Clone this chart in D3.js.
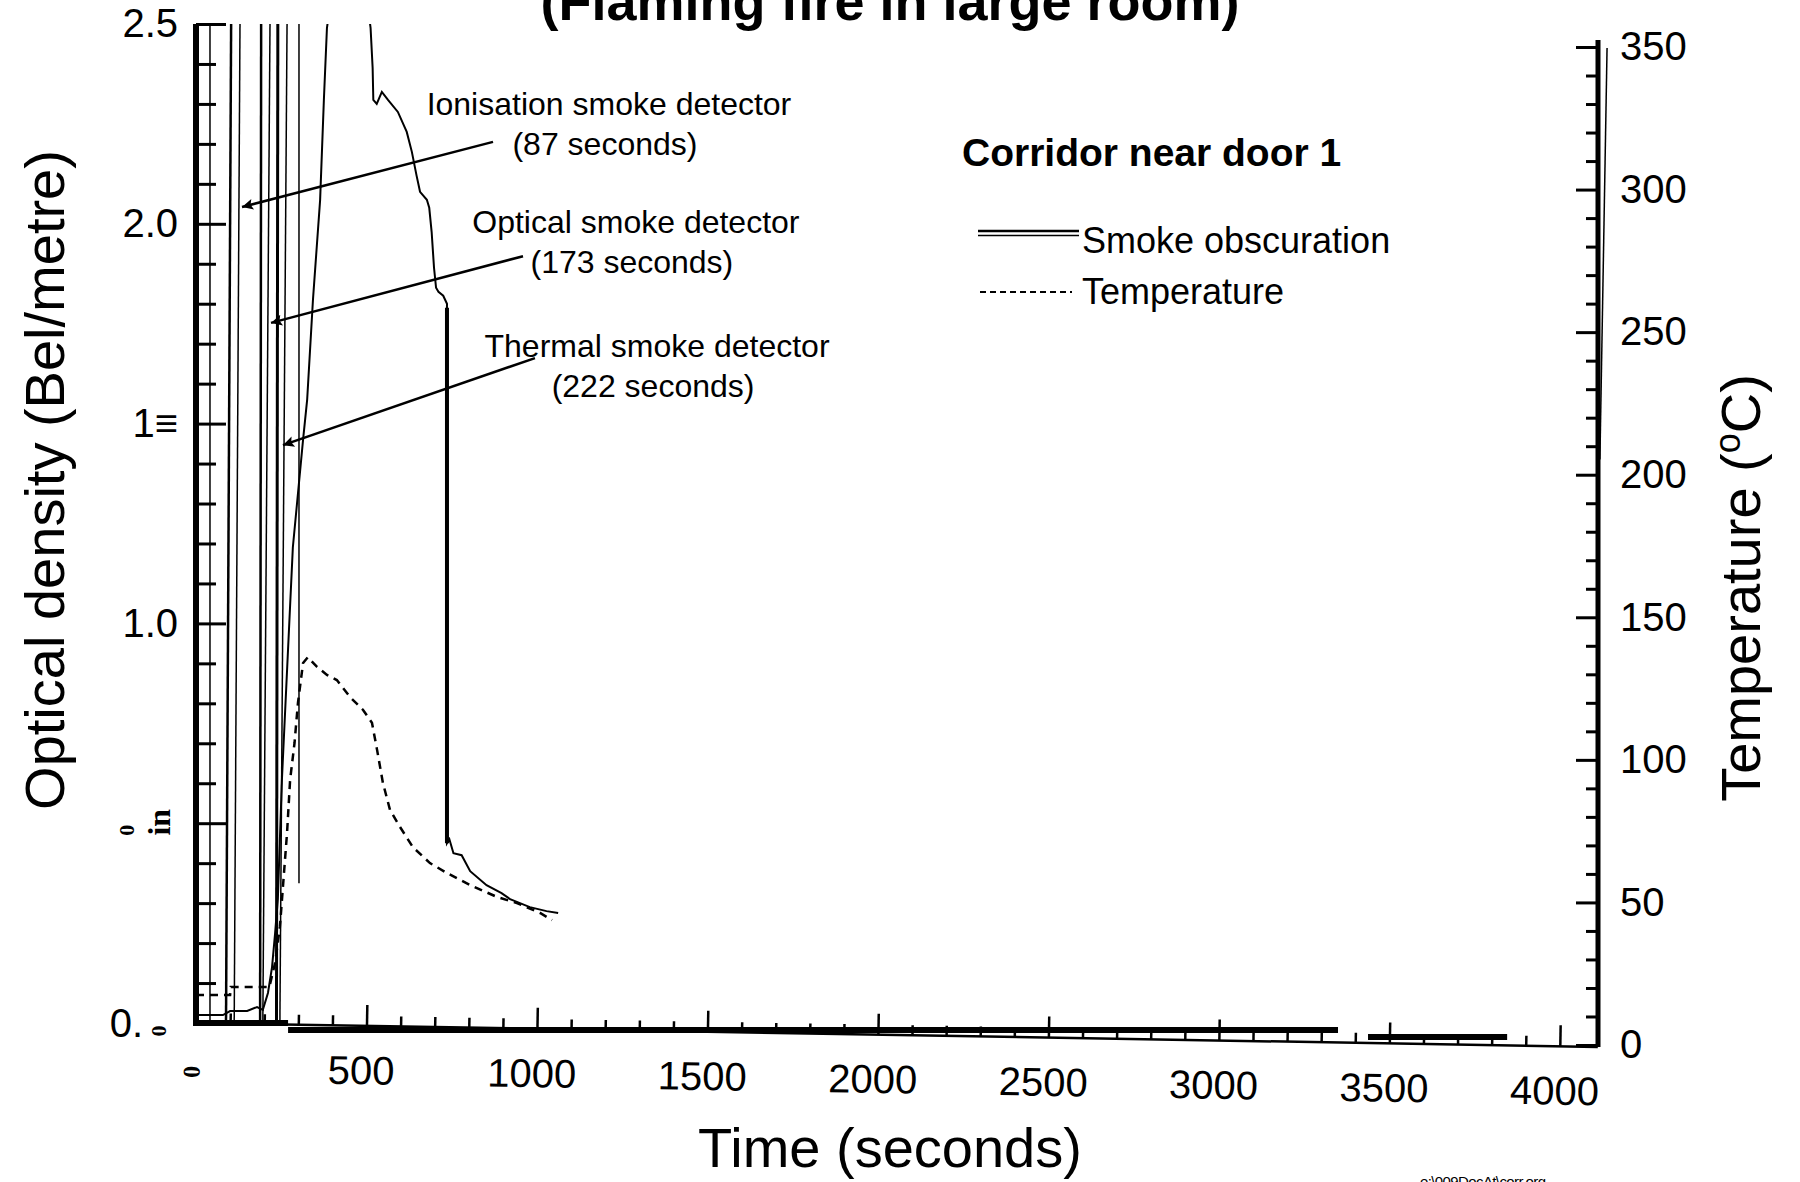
<!DOCTYPE html>
<html>
<head>
<meta charset="utf-8">
<script src="https://cdn.jsdelivr.net/npm/d3@7"></script>
<style>
  body { margin: 0; background: #fff; }
  svg { display: block; background: #fff; }
  text { font-family: "Liberation Sans", Arial, sans-serif; fill: #000; }
  .serif { font-family: "Liberation Serif", "DejaVu Serif", serif; font-weight: bold; }
</style>
</head>
<body>
<svg id="chart" width="1800" height="1182"></svg>
<script>
// smoke obscuration (Bel/metre, left axis)
const smokeTime  = [0, 79, 100, 150, 179, 196, 211, 223, 232, 240, 252, 284, 314, 326, 343, 364, 375, 384, 450, 512, 518, 520, 530, 545, 563, 592, 618, 633, 647, 657, 677, 684, 691, 698, 704, 711, 725, 736, 736, 743, 755, 779, 804, 852, 896, 921, 979, 1028, 1062];
const smokeValue = [0.02, 0.02, 0.03, 0.03, 0.04, 0.033, 0.075, 0.14, 0.225, 0.31, 0.61, 1.19, 1.46, 1.56, 1.81, 2.06, 2.31, 2.49, 2.9, 2.49, 2.39, 2.31, 2.30, 2.33, 2.31, 2.28, 2.23, 2.18, 2.12, 2.08, 2.06, 2.04, 1.98, 1.89, 1.84, 1.83, 1.82, 1.80, 0.45, 0.46, 0.425, 0.42, 0.38, 0.345, 0.325, 0.31, 0.29, 0.28, 0.275];

// temperature (deg C, right axis)
const tempTime  = [0, 100, 102, 215, 232, 246, 267, 276, 289, 299, 314, 328, 355, 384, 413, 452, 490, 516, 531, 548, 569, 598, 636, 686, 736, 804, 883, 941, 1009, 1044];
const tempValue = [17.5, 17.5, 20.3, 20.3, 28.8, 41.4, 74.4, 93, 106, 120, 134, 136, 132.6, 129.8, 128, 122, 117.5, 113, 103.5, 92, 82.4, 76.5, 69.4, 63.8, 60.3, 56.1, 51.9, 49.8, 46.3, 43.8];

// near-vertical pen traces left on the record (time at top / bottom, left-axis values)
const traceTimeTop     = [41, 103, 129, 191, 217, 240, 267, 302, 736, 4138];
const traceTimeBottom  = [41, 88, 112, 188, 196, 236, 246, 302, 736, 4117];
const traceValueTop    = [2.5, 2.5, 2.5, 2.5, 2.5, 2.5, 2.5, 2.5, 1.79, 2.44];
const traceValueBottom = [0, 0, 0, 0, 0, 0, 0, 0.35, 0.45, 1.41];
const traceStroke      = [1.5, 2.5, 1.5, 2.5, 1.5, 3, 1.5, 1.5, 4, 1.5];

// thick flat runs of the smoke record along the time axis
const runStart = [0, 270, 3437];
const runEnd   = [270, 3349, 3845];
const runValue = [0, -0.0175, -0.035];

// axes
const xMajor = [500, 1000, 1500, 2000, 2500, 3000, 3500, 4000];
const xTickLabels = ["500", "1000", "1500", "2000", "2500", "3000", "3500", "4000"];
const xMinor = d3.range(100, 4000, 100).filter(d => d % 500 !== 0);
const yMajor = [0, 0.5, 1.0, 1.5, 2.0, 2.5];
const yTickLabels = ["", "", "1.0", "1\u2261", "2.0", "2.5"];
const yMinor = d3.range(1, 25).map(d => d / 10).filter(d => Math.round(d * 10) % 5 !== 0);
const tMajor = [0, 50, 100, 150, 200, 250, 300, 350];
const tTickLabels = ["0", "50", "100", "150", "200", "250", "300", "350"];
const tMinor = d3.range(10, 350, 10).filter(d => d % 50 !== 0);

// annotations: arrow from (t0,v0) to tip (t1,v1), two text lines
const noteLine1 = ["Ionisation smoke detector", "Optical smoke detector", "Thermal smoke detector"];
const noteLine2 = ["(87 seconds)", "(173 seconds)", "(222 seconds)"];
const noteTime  = [1211, 1290, 1352];
const noteValue = [2.272, 1.977, 1.667];
const arrowFromT = [871, 959, 994];
const arrowFromV = [2.205, 1.919, 1.664];
const arrowToT   = [135, 220, 255];
const arrowToV   = [2.042, 1.752, 1.446];

const legendTitle = "Corridor near door 1";
const legendLabels = ["Smoke obscuration", "Temperature"];

const svg = d3.select("#chart");
const x = d3.scaleLinear().domain([0, 4000]).range([196, 1560]);
const yL = d3.scaleLinear().domain([0, 2.5]).range([1023, 24]);
const yR = d3.scaleLinear().domain([0, 350]).range([1045, 47]);
const rightX = 1598;
const tilt = 0.98; // the scanned time axis runs slightly downhill

const defs = svg.append("defs");
defs.append("clipPath").attr("id", "plot")
  .append("rect").attr("x", 150).attr("y", yL(2.5)).attr("width", 1470).attr("height", 1080);
defs.append("marker").attr("id", "head")
  .attr("viewBox", "0 0 10 10").attr("refX", 10).attr("refY", 5)
  .attr("markerUnits", "userSpaceOnUse").attr("markerWidth", 24).attr("markerHeight", 11)
  .attr("orient", "auto")
  .append("path").attr("d", "M0,0 L10,5 L0,10 L2,5 z").attr("fill", "#000");

// title, cut off by the top of the page
svg.append("text").attr("x", 890).attr("y", 20).attr("text-anchor", "middle")
  .style("font-size", "54px").style("font-weight", "bold")
  .text("(Flaming fire in large room)");

const plot = svg.append("g").attr("clip-path", "url(#plot)");

// pen traces
plot.selectAll(".trace").data(traceTimeTop).join("line")
  .attr("class", "trace")
  .attr("x1", (d, i) => x(d)).attr("y1", (d, i) => yL(traceValueTop[i]))
  .attr("x2", (d, i) => x(traceTimeBottom[i])).attr("y2", (d, i) => yL(traceValueBottom[i]))
  .attr("stroke", "#000").attr("stroke-width", (d, i) => traceStroke[i]);

// thick runs
plot.selectAll(".run").data(runStart).join("line")
  .attr("class", "run")
  .attr("x1", d => x(d)).attr("x2", (d, i) => x(runEnd[i]))
  .attr("y1", (d, i) => yL(runValue[i])).attr("y2", (d, i) => yL(runValue[i]))
  .attr("stroke", "#000").attr("stroke-width", 6);

const smoke = smokeTime.map((t, i) => [t, smokeValue[i]]);
plot.append("path").datum(smoke)
  .attr("d", d3.line().x(d => x(d[0])).y(d => yL(d[1])))
  .attr("fill", "none").attr("stroke", "#000").attr("stroke-width", 2);

const temp = tempTime.map((t, i) => [t, tempValue[i]]);
plot.append("path").datum(temp)
  .attr("d", d3.line().x(d => x(d[0])).y(d => yR(d[1])))
  .attr("fill", "none").attr("stroke", "#000").attr("stroke-width", 2.5)
  .attr("stroke-dasharray", "8,6");

// time axis
const gx = svg.append("g")
  .attr("transform", `rotate(${tilt} ${x(0)} ${yL(0)}) translate(0 ${yL(0)})`);
gx.append("line").attr("x1", x(0)).attr("x2", rightX)
  .attr("stroke", "#000").attr("stroke-width", 2.5);
gx.append("g").call(d3.axisBottom(x).tickValues(xMinor).tickSize(-10).tickFormat(""));
gx.append("g").call(d3.axisBottom(x).tickValues(xMajor).tickSize(-21).tickPadding(30)
  .tickFormat(d => xTickLabels[xMajor.indexOf(d)]));
gx.selectAll(".domain").remove();
gx.selectAll(".tick line").attr("stroke-width", 2.5);
gx.selectAll(".tick text").attr("dx", -5).style("font-size", "40px");
gx.append("text").attr("class", "serif")
  .attr("transform", `translate(${x(0) - 4},49) rotate(-90)`)
  .attr("text-anchor", "middle").attr("dy", "0.35em")
  .style("font-size", "24px").text("0");

// left axis
const gyL = svg.append("g").attr("transform", `translate(${x(0)},0)`);
gyL.append("line").attr("y1", yL(2.5)).attr("y2", yL(0) + 3)
  .attr("stroke", "#000").attr("stroke-width", 6);
gyL.append("g").call(d3.axisLeft(yL).tickValues(yMinor).tickSize(-20).tickFormat(""));
gyL.append("g").call(d3.axisLeft(yL).tickValues(yMajor).tickSize(-30).tickPadding(18)
  .tickFormat(d => yTickLabels[yMajor.indexOf(d)]));
gyL.selectAll(".domain").remove();
gyL.selectAll(".tick line").attr("stroke-width", 3);
gyL.selectAll(".tick text").style("font-size", "40px");
gyL.append("text").attr("x", -53).attr("y", yL(0)).attr("dy", "0.35em")
  .attr("text-anchor", "end").style("font-size", "40px").text("0.");
gyL.append("text").attr("class", "serif")
  .attr("transform", `translate(-38,${yL(0) + 8}) rotate(-90)`)
  .attr("text-anchor", "middle").attr("dy", "0.35em").style("font-size", "22px").text("0");
gyL.append("text").attr("class", "serif")
  .attr("transform", `translate(-70,${yL(0.5) + 7}) rotate(-90)`)
  .attr("text-anchor", "middle").attr("dy", "0.35em").style("font-size", "22px").text("0");
gyL.append("text").attr("class", "serif")
  .attr("transform", `translate(-37,${yL(0.5) - 1}) rotate(-90)`)
  .attr("text-anchor", "middle").attr("dy", "0.35em").style("font-size", "32px").text("in");

// right axis
const gyR = svg.append("g").attr("transform", `translate(${rightX},0)`);
gyR.append("line").attr("y1", yR(350) - 7).attr("y2", yR(0) + 2)
  .attr("stroke", "#000").attr("stroke-width", 5);
gyR.append("g").call(d3.axisRight(yR).tickValues(tMinor).tickSize(-12).tickFormat(""));
gyR.append("g").call(d3.axisRight(yR).tickValues(tMajor).tickSize(-22).tickPadding(22)
  .tickFormat(d => tTickLabels[tMajor.indexOf(d)]));
gyR.selectAll(".domain").remove();
gyR.selectAll(".tick line").attr("stroke-width", 3);
gyR.selectAll(".tick text").style("font-size", "40px");

// axis titles
svg.append("text").attr("transform", "translate(64,480) rotate(-90)")
  .attr("text-anchor", "middle").style("font-size", "56px")
  .text("Optical density (Bel/metre)");
const tt = svg.append("text").attr("transform", "translate(1760,588) rotate(-90)")
  .attr("text-anchor", "middle").style("font-size", "56px");
tt.append("tspan").text("Temperature (");
tt.append("tspan").attr("dy", -20).style("font-size", "36px").text("o");
tt.append("tspan").attr("dy", 20).text("C)");
svg.append("text").attr("x", 890).attr("y", 1167).attr("text-anchor", "middle")
  .style("font-size", "56px").text("Time (seconds)");

// detector annotations
svg.selectAll(".arrow").data(arrowFromT).join("line")
  .attr("class", "arrow")
  .attr("x1", d => x(d)).attr("y1", (d, i) => yL(arrowFromV[i]))
  .attr("x2", (d, i) => x(arrowToT[i])).attr("y2", (d, i) => yL(arrowToV[i]))
  .attr("stroke", "#000").attr("stroke-width", 2.5).attr("marker-end", "url(#head)");
svg.selectAll(".note1").data(noteLine1).join("text")
  .attr("class", "note1").attr("text-anchor", "middle")
  .attr("x", (d, i) => x(noteTime[i])).attr("y", (d, i) => yL(noteValue[i]))
  .style("font-size", "32px").text(d => d);
svg.selectAll(".note2").data(noteLine2).join("text")
  .attr("class", "note2").attr("text-anchor", "middle")
  .attr("x", (d, i) => x(noteTime[i]) - 4).attr("y", (d, i) => yL(noteValue[i]) + 40)
  .style("font-size", "32px").text(d => d);

// legend
const lg = svg.append("g").attr("transform", "translate(962,0)");
lg.append("text").attr("x", 0).attr("y", 166).style("font-size", "39px").style("font-weight", "bold")
  .text(legendTitle);
lg.append("line").attr("x1", 16).attr("x2", 117).attr("y1", 231).attr("y2", 231)
  .attr("stroke", "#000").attr("stroke-width", 2.5);
lg.append("line").attr("x1", 16).attr("x2", 117).attr("y1", 235.5).attr("y2", 235.5)
  .attr("stroke", "#000").attr("stroke-width", 1.5);
lg.append("line").attr("x1", 18).attr("x2", 110).attr("y1", 292).attr("y2", 292)
  .attr("stroke", "#000").attr("stroke-width", 2).attr("stroke-dasharray", "6,4");
lg.selectAll(".lab").data(legendLabels).join("text")
  .attr("class", "lab").attr("x", 120).attr("y", (d, i) => 253 + i * 51)
  .style("font-size", "36px").text(d => d);

// file stamp at the foot of the page
svg.append("text").attr("x", 1420).attr("y", 1187).attr("textLength", 126)
  .style("font-size", "15px").text("e:\\009DocAt\\corr.org");
</script>
</body>
</html>
